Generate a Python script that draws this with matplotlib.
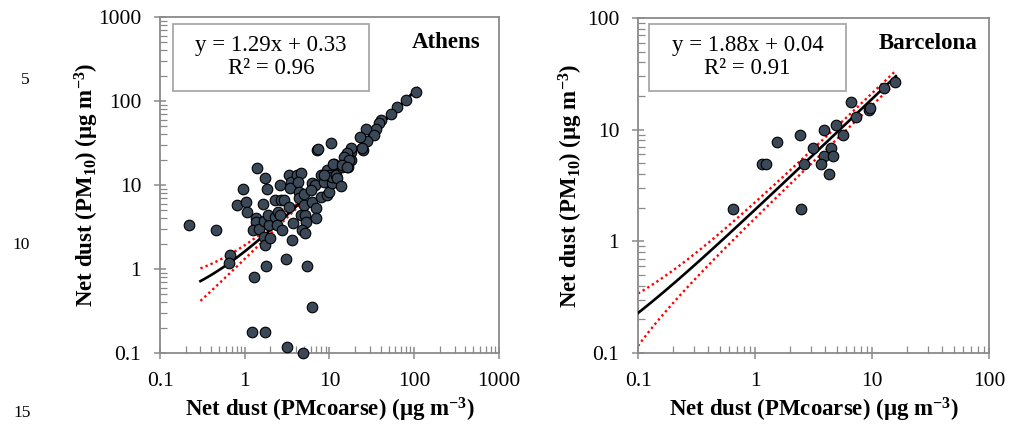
import matplotlib
matplotlib.use('Agg')
import matplotlib.pyplot as plt
from matplotlib.ticker import LogLocator, NullFormatter
from matplotlib.patches import Rectangle
import numpy as np

plt.rcParams['font.family'] = ['Liberation Serif', 'DejaVu Serif']
plt.rcParams['mathtext.fontset'] = 'custom'
plt.rcParams['mathtext.rm'] = 'Liberation Serif'
plt.rcParams['mathtext.bf'] = 'Liberation Serif:bold'
plt.rcParams['mathtext.it'] = 'Liberation Serif:italic'

# Athens: net dust PMcoarse (x) vs net dust PM10 (y)
athens_x = [0.22, 0.46, 0.67, 0.65, 0.95, 0.81, 1.03, 1.06, 1.38, 1.74, 1.84, 1.64,
            1.35, 1.37, 1.25, 1.48, 1.69, 1.69, 1.74, 1.99, 1.94, 1.90, 2.28, 2.28,
            2.60, 2.66, 2.88, 2.50, 2.60, 2.38, 2.78, 3.33, 3.55, 3.43, 4.17, 4.66,
            4.26, 3.33, 3.74, 3.60, 3.05, 1.29, 1.80, 5.47, 6.28, 1.22, 1.72, 3.13,
            4.88, 4.40, 4.40, 5.05, 4.58, 5.16, 5.00, 5.25, 4.78, 5.10, 6.28, 6.70,
            6.20, 6.00, 6.90, 6.90, 7.90, 8.00, 8.60, 9.40, 9.90, 9.40, 9.90, 10.8,
            10.8, 11.3, 11.8, 12.4, 13.6, 14.2, 15.6, 16.7, 15.6, 17.0, 17.8, 17.8,
            25.0, 7.20, 104, 81, 62, 53, 41, 38.6, 35, 27, 33.6, 28, 22.8, 24.5,
            17.8, 16.3, 14.9, 17.0, 10.3, 7.4, 11.1, 14.2, 16.3, 8.6]
athens_y = [3.37, 2.9, 1.46, 1.18, 9.0, 5.8, 6.2, 4.8, 16.0, 12.2, 9.0, 6.0,
            4.0, 3.66, 2.9, 3.0, 3.7, 2.38, 1.93, 2.36, 3.3, 4.4, 4.2, 6.6,
            10.0, 6.6, 6.6, 4.8, 4.4, 3.3, 2.9, 13.1, 10.9, 9.3, 13.1, 14.0,
            10.8, 5.4, 3.56, 2.2, 1.33, 0.81, 1.09, 1.09, 0.355, 0.18, 0.18, 0.118,
            0.099, 8.2, 7.0, 7.8, 4.4, 4.4, 5.8, 3.66, 2.9, 2.66, 10.5, 10.0,
            6.3, 8.7, 5.3, 4.1, 7.1, 13.1, 10.9, 15.0, 13.1, 7.6, 8.3, 10.5,
            12.5, 17.8, 13.1, 12.0, 9.7, 16.5, 18.1, 16.5, 22.7, 21.8, 25.0, 19.8,
            26.0, 26.0, 129, 103, 84, 70, 60, 54, 47, 46, 39, 33.7, 37, 27.4,
            27.4, 23.8, 21.8, 19.8, 31.9, 26.8, 17.8, 17.3, 16.5, 13.1]

# Barcelona
barcelona_x = [15.7, 12.7, 6.6, 9.4, 9.7, 7.3, 4.9, 3.9, 2.43, 5.6, 1.55, 3.14,
               4.45, 3.9, 4.68, 1.155, 1.23, 2.63, 3.66, 4.3, 0.65, 2.49]
barcelona_y = [26.8, 23.5, 17.7, 15.0, 15.5, 12.9, 11.0, 9.9, 8.95, 8.95, 7.8, 6.9,
               6.9, 5.85, 5.85, 4.9, 4.9, 4.9, 4.9, 4.0, 1.96, 1.96]

# fits shown in the boxes, with confidence band half-width (a + b*x)
athens_fit = (1.29, 0.33, 0.30, 0.0, 0.3, 110)
barcelona_fit = (1.88, 0.04, 0.09, 0.225, 0.1, 16)

fig = plt.figure(figsize=(10.14, 4.33), dpi=100)
ax1 = fig.add_axes([0.1578, 0.1848, 0.3343, 0.776])
ax2 = fig.add_axes([0.6292, 0.1848, 0.3462, 0.7737])


def draw_panel(ax, xs, ys, fit, xlim, ylim, eq, r2, city, box, city_x, ylab_x):
    m, c, a, b, x0, x1 = fit
    xf = np.geomspace(x0, x1, 60)
    yf = m * xf + c
    hw = a + b * xf
    ax.plot(xf, yf + hw, color='red', ls=(0, (1, 1.3)), lw=1.7, zorder=2)
    ax.plot(xf, yf - hw, color='red', ls=(0, (1, 1.3)), lw=1.7, zorder=2)
    ax.plot(xf, yf, color='black', lw=1.9, zorder=3)
    ax.scatter(xs, ys, s=58, color='#3b4858', edgecolor='black', linewidth=0.8,
               zorder=4, clip_on=False)
    ax.set_xscale('log')
    ax.set_yscale('log')
    ax.set_xlim(*xlim)
    ax.set_ylim(*ylim)
    for sp in ax.spines.values():
        sp.set_color('#8a8a8a')
        sp.set_linewidth(1.3)
    ax.xaxis.set_minor_locator(LogLocator(base=10, subs=np.arange(2, 10)))
    ax.yaxis.set_minor_locator(LogLocator(base=10, subs=np.arange(2, 10)))
    ax.xaxis.set_minor_formatter(NullFormatter())
    ax.yaxis.set_minor_formatter(NullFormatter())
    ax.xaxis.set_major_formatter(plt.FuncFormatter(lambda v, p: f'{v:g}'))
    ax.yaxis.set_major_formatter(plt.FuncFormatter(lambda v, p: f'{v:g}'))
    ax.tick_params(which='major', direction='inout', length=9, width=1.1,
                   color='#8a8a8a', labelsize=15.5, pad=9)
    ax.tick_params(which='minor', direction='in', length=5, width=0.9,
                   color='#8a8a8a')
    ax.set_xlabel('Net dust (PMcoarse) (µg m$^{\\mathbf{-3}}$)', fontsize=16.5,
                  fontweight='bold', labelpad=4)
    ax.set_ylabel('Net dust (PM$_{\\mathbf{10}}$) (µg m$^{\\mathbf{-3}}$)',
                  fontsize=16.5, fontweight='bold', va='center')
    ax.yaxis.set_label_coords(ylab_x, 0.5)
    bx0, bx1, by0, by1 = box
    ax.add_patch(Rectangle((bx0, by0), bx1 - bx0, by1 - by0, transform=ax.transAxes,
                           fc='white', ec='#a8a8a8', lw=1.3, zorder=5))
    xc = 0.5 * (bx0 + bx1)
    ax.text(xc, by1 - 0.063, eq, transform=ax.transAxes, ha='center', va='center',
            fontsize=16.5, zorder=6)
    ax.text(xc, by1 - 0.132, r2, transform=ax.transAxes, ha='center', va='center',
            fontsize=16.5, zorder=6)
    ax.text(city_x, 0.925, city, transform=ax.transAxes, ha='right', va='center',
            fontsize=16.5, fontweight='bold')


draw_panel(ax1, athens_x, athens_y, athens_fit, (0.1, 1000), (0.1, 1000),
           'y = 1.29x + 0.33', 'R² = 0.96', 'Athens',
           (0.037, 0.617, 0.78, 0.979), 0.944, -0.215)
draw_panel(ax2, barcelona_x, barcelona_y, barcelona_fit, (0.1, 100), (0.1, 100),
           'y = 1.88x + 0.04', 'R² = 0.91', 'Barcelona',
           (0.031, 0.593, 0.782, 0.982), 0.966, -0.191)

# manuscript line numbers
fig.text(25 / 1014, 1 - 80 / 433, '5', fontsize=12.5, ha='center', va='center')
fig.text(21 / 1014, 1 - 245 / 433, '10', fontsize=12.5, ha='center', va='center')
fig.text(22 / 1014, 1 - 413 / 433, '15', fontsize=12.5, ha='center', va='center')

fig.savefig('out.png', dpi=100)
